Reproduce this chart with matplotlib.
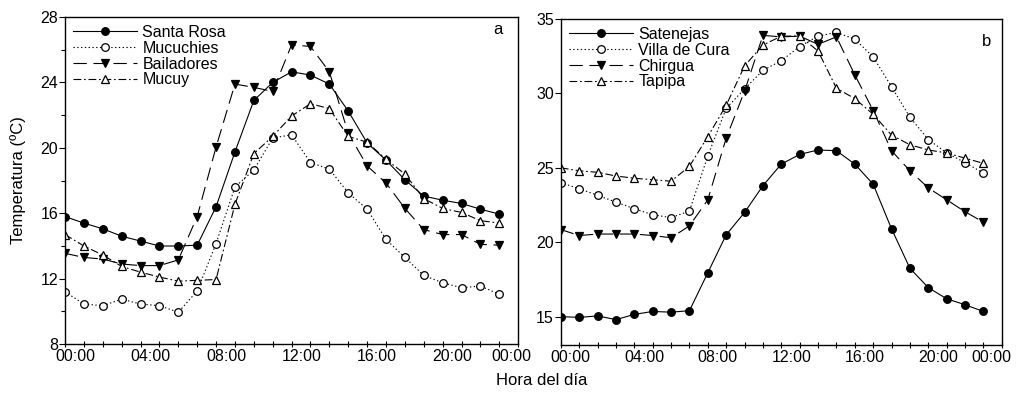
import numpy as np
import matplotlib
matplotlib.use("Agg")
import matplotlib.pyplot as plt
from matplotlib.ticker import MultipleLocator
from matplotlib.transforms import ScaledTranslation

plt.rcParams['font.family'] = ['Liberation Sans', 'DejaVu Sans']

# horas 00:00 ... 23:00
hours = list(range(24))

# panel a
santa_rosa = [15.8, 15.4, 15.05, 14.6, 14.3, 14.0, 14.0, 14.05, 16.4, 19.75, 22.9, 24.0,
              24.65, 24.45, 23.9, 22.25, 20.3, 19.25, 18.05, 17.05, 16.8, 16.6, 16.25, 15.95]
mucuchies = [11.2, 10.45, 10.35, 10.75, 10.45, 10.35, 9.95, 11.25, 14.15, 17.6, 18.65, 20.6,
             20.8, 19.1, 18.7, 17.25, 16.25, 14.4, 13.3, 12.2, 11.75, 11.45, 11.55, 11.05]
bailadores = [13.55, 13.3, 13.2, 12.9, 12.8, 12.8, 13.15, 15.8, 20.05, 23.9, 23.7, 23.45,
              26.3, 26.2, 24.65, 20.9, 18.9, 17.85, 16.3, 15.0, 14.7, 14.7, 14.1, 14.05]
mucuy = [14.7, 14.0, 13.45, 12.75, 12.4, 12.1, 11.85, 11.9, 11.95, 16.55, 19.65, 20.7,
         21.95, 22.7, 22.4, 20.7, 20.35, 19.3, 18.4, 16.9, 16.3, 16.05, 15.55, 15.4]

# panel b
satenejas = [15.0, 14.95, 15.05, 14.8, 15.15, 15.35, 15.3, 15.4, 17.95, 20.5, 22.0, 23.8,
             25.25, 25.9, 26.2, 26.15, 25.25, 23.9, 20.9, 18.25, 16.95, 16.2, 15.8, 15.35]
villa_de_cura = [24.0, 23.6, 23.15, 22.7, 22.25, 21.85, 21.65, 22.1, 25.8, 29.0, 30.3, 31.55,
                 32.2, 33.15, 33.85, 34.1, 33.65, 32.45, 30.45, 28.4, 26.9, 26.0, 25.35, 24.65]
chirgua = [20.85, 20.45, 20.55, 20.55, 20.55, 20.45, 20.3, 21.1, 22.85, 27.0, 30.15, 33.9,
           33.8, 33.85, 33.3, 33.8, 31.25, 28.85, 26.15, 24.8, 23.65, 22.85, 22.05, 21.35]
tapipa = [25.0, 24.8, 24.7, 24.45, 24.3, 24.2, 24.1, 25.1, 27.1, 29.2, 31.85, 33.25,
          33.85, 33.85, 32.85, 30.35, 29.65, 28.6, 27.2, 26.55, 26.2, 26.0, 25.65, 25.3]

tick_pos = [0, 4, 8, 12, 16, 20, 24]
tick_labels = ['00:00', '04:00', '08:00', '12:00', '16:00', '20:00', '00:00']

styles = [
    dict(linestyle='-', marker='o', mfc='black', mec='black'),
    dict(linestyle=(0, (1.2, 2.2)), marker='o', mfc='white', mec='black'),
    dict(linestyle=(0, (12, 6)), marker='v', mfc='black', mec='black'),
    dict(linestyle=(0, (7, 2.5, 1.5, 2.5)), marker='^', mfc='white', mec='black'),
]

fig = plt.figure(figsize=(10.16, 3.96), dpi=100)
ax1 = fig.add_axes([0.064, 0.131, 0.446, 0.826])
ax2 = fig.add_axes([0.552, 0.129, 0.434, 0.823])


def draw_panel(ax, series, names, ylim, ymajor, yminor, letter, letter_xy, last_shift):
    for vals, name, st in zip(series, names, styles):
        ax.plot(hours, vals, color='black', lw=0.8, markersize=5.5, mew=0.9,
                label=name, **st)
    ax.set_xlim(0, 24)
    ax.set_ylim(*ylim)
    ax.set_xticks(tick_pos)
    ax.set_xticklabels(tick_labels)
    ax.xaxis.set_minor_locator(MultipleLocator(1))
    ax.yaxis.set_major_locator(MultipleLocator(ymajor))
    if yminor:
        ax.yaxis.set_minor_locator(MultipleLocator(yminor))
    ax.tick_params(axis='x', which='major', direction='inout', length=5, width=0.8,
                   labelsize=11.5, pad=1)
    ax.tick_params(axis='x', which='minor', direction='inout', length=4, width=0.8)
    ax.tick_params(axis='y', which='major', direction='out', length=4, width=0.8,
                   labelsize=11.5, pad=1)
    ax.tick_params(axis='y', which='minor', direction='out', length=3, width=0.8)
    for s in ax.spines.values():
        s.set_linewidth(1.0)
    # etiquetas del eje x desplazadas como en el original
    labels = ax.get_xticklabels()
    for i, lab in enumerate(labels):
        dx = 10 if i < len(labels) - 1 else last_shift
        lab.set_transform(lab.get_transform() + ScaledTranslation(dx / 100, 0, fig.dpi_scale_trans))
    ax.legend(loc='upper left', frameon=False, fontsize=11.5, handlelength=4.0,
              handletextpad=0.35, labelspacing=0.05, borderpad=0.2, borderaxespad=0.3)
    ax.text(letter_xy[0], letter_xy[1], letter, transform=ax.transAxes, fontsize=12,
            ha='center', va='center')


draw_panel(ax1, [santa_rosa, mucuchies, bailadores, mucuy],
           ['Santa Rosa', 'Mucuchies', 'Bailadores', 'Mucuy'],
           (8, 28), 4, 2, 'a', (0.955, 0.962), -7)
draw_panel(ax2, [satenejas, villa_de_cura, chirgua, tapipa],
           ['Satenejas', 'Villa de Cura', 'Chirgua', 'Tapipa'],
           (13.1, 35), 5, None, 'b', (0.965, 0.93), -10)

fig.text(0.018, 0.545, 'Temperatura (ºC)', rotation=90, ha='center', va='center', fontsize=12)
fig.text(0.533, 0.038, 'Hora del día', ha='center', va='center', fontsize=12)

fig.savefig('out.png', dpi=100)
